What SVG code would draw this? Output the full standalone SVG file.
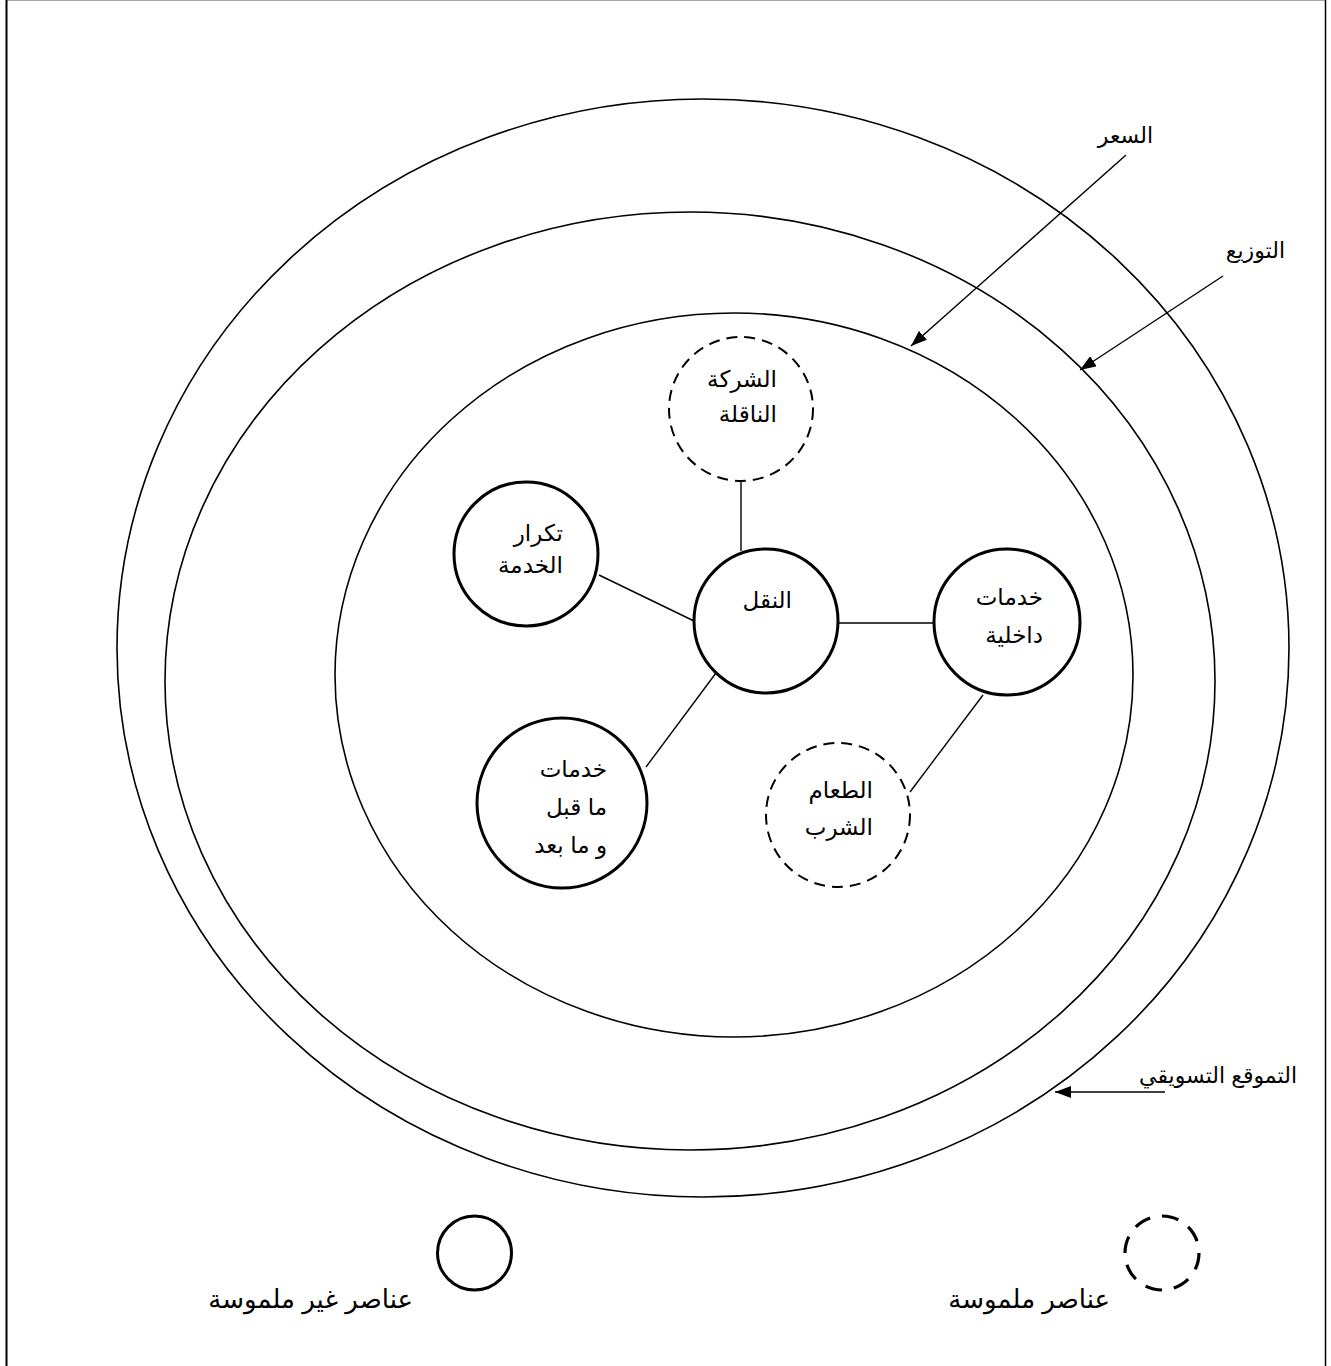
<svg xmlns="http://www.w3.org/2000/svg" width="1331" height="1366" viewBox="0 0 1331 1366">
<style>
.ring{fill:none;stroke:#000;stroke-width:1.6}
.solid{fill:#fff;stroke:#000;stroke-width:3}
.dash{fill:#fff;stroke:#000;stroke-width:2;stroke-dasharray:11 7}
.ln{stroke:#000;stroke-width:1.4;fill:none}
text{font-family:"Liberation Sans","DejaVu Sans",sans-serif;font-size:23px;fill:#000;direction:rtl;text-anchor:start}
.lbl{font-size:22px}
.leg{font-size:26px}
</style>
<defs>
<marker id="ah" viewBox="0 0 16 12" refX="16" refY="6" markerWidth="16" markerHeight="12" markerUnits="userSpaceOnUse" orient="auto">
<path d="M0,0 L16,6 L0,12 z" fill="#000"/>
</marker>
</defs>
<rect x="0" y="0" width="1331" height="1366" fill="#fff"/>
<line x1="6" y1="0.5" x2="1326" y2="0.5" stroke="#aaa" stroke-width="1"/>
<line x1="6.5" y1="0" x2="6.5" y2="1366" stroke="#000" stroke-width="2"/>
<line x1="1325.5" y1="0" x2="1325.5" y2="1366" stroke="#000" stroke-width="1.5"/>
<g id="rings">
<ellipse class="ring" cx="703" cy="648" rx="586" ry="549"/>
<ellipse class="ring" cx="690" cy="681" rx="525" ry="469"/>
<ellipse class="ring" cx="734" cy="675" rx="399" ry="362"/>
</g>
<g id="connectors">
<line class="ln" x1="741" y1="482" x2="741" y2="551"/>
<line class="ln" x1="599" y1="575" x2="694" y2="621"/>
<line class="ln" x1="838" y1="623" x2="934" y2="623"/>
<line class="ln" x1="716" y1="673" x2="646" y2="767"/>
<line class="ln" x1="983" y1="695" x2="910" y2="792"/>
<line class="ln" x1="1126" y1="155" x2="911" y2="346" marker-end="url(#ah)"/>
<line class="ln" x1="1223" y1="276" x2="1080" y2="370" marker-end="url(#ah)"/>
<line class="ln" x1="1165" y1="1092" x2="1055" y2="1092" marker-end="url(#ah)"/>
</g>
<g id="node-carrier">
<circle class="dash" cx="741" cy="409" r="72"/>
<text x="777" y="387">الشركة</text>
<text x="777" y="422">الناقلة</text>
</g>
<g id="node-frequency">
<circle class="solid" cx="526" cy="554" r="72"/>
<text x="563" y="541">تكرار</text>
<text x="563" y="573">الخدمة</text>
</g>
<g id="node-transport">
<circle class="solid" cx="766" cy="621" r="72"/>
<text x="792" y="608">النقل</text>
</g>
<g id="node-internal">
<circle class="solid" cx="1007" cy="622" r="73"/>
<text x="1043" y="605">خدمات</text>
<text x="1043" y="643">داخلية</text>
</g>
<g id="node-prepost">
<circle class="solid" cx="562" cy="803" r="85"/>
<text x="607" y="777">خدمات</text>
<text x="607" y="815">ما قبل</text>
<text x="607" y="853">و ما بعد</text>
</g>
<g id="node-food">
<circle class="dash" cx="838" cy="815" r="72"/>
<text x="873" y="798">الطعام</text>
<text x="873" y="835">الشرب</text>
</g>
<g id="labels">
<text class="lbl" x="1153" y="143">السعر</text>
<text class="lbl" x="1285" y="258">التوزيع</text>
<text class="lbl" x="1297" y="1083">التموقع التسويقي</text>
</g>
<g id="legend">
<circle cx="474.5" cy="1253" r="37" fill="none" stroke="#000" stroke-width="3"/>
<text class="leg" x="413" y="1308">عناصر غير ملموسة</text>
<circle cx="1162" cy="1253" r="37" fill="none" stroke="#000" stroke-width="3.2" stroke-dasharray="17 12"/>
<text class="leg" x="1110" y="1308">عناصر ملموسة</text>
</g>
</svg>
